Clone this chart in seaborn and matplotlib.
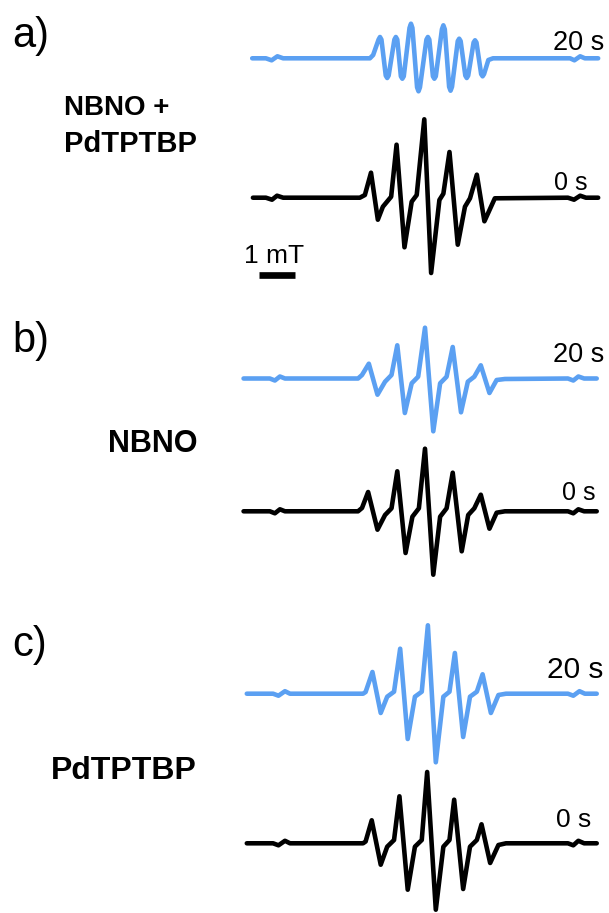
import numpy as np
import seaborn as sns
import matplotlib.pyplot as plt

sns.set_style("white")
plt.rcParams['font.family'] = ['Liberation Sans', 'DejaVu Sans']
plt.rcParams['text.color'] = 'black'

# EPR spectra: field offset (mT) and signal (a.u.)
field_a_20s = [-4.80, -4.42, -4.26, -4.10, -3.94, -1.53, -1.44,
               -1.29, -1.25, -1.21, -1.09, -1.05, -1.01, -0.85, -0.81, -0.77, -0.67, -0.63, -0.59,
               -0.43, -0.39, -0.35, -0.22, -0.18, -0.14, 0.04, 0.08, 0.12, 0.22, 0.26, 0.30,
               0.47, 0.51, 0.55, 0.67, 0.71, 0.75, 0.91, 0.95, 0.99, 1.12, 1.16, 1.20,
               1.35, 1.39, 1.43, 1.56, 1.60, 1.64, 1.76, 1.89, 4.03, 4.15, 4.31, 4.44, 4.81]
signal_a_20s = [0, 0, -2.0, 2.0, 0, 0, 3.3,
                18.7, 21.3, 18.7, -17.3, -19.7, -17.3, 18.7, 21.3, 18.7, -18.0, -20.4, -18.0,
                30.4, 34.6, 30.4, -29.0, -33.0, -29.0, 18.7, 21.3, 18.7, -18.0, -20.4, -18.0,
                29.0, 33.0, 29.0, -28.5, -32.4, -28.5, 17.2, 19.6, 17.2, -17.3, -19.7, -17.3,
                15.8, 18.0, 15.8, -15.8, -18.0, -15.8, -1.7, 0, 0, -2.0, 2.0, 0, 0]

field_a_0s = [-4.78, -4.42, -4.25, -4.11, -3.94, -1.81, -1.67, -1.50, -1.31, -1.17, -0.94, -0.79, -0.57, -0.37,
              -0.23, -0.02, 0.17, 0.40, 0.51, 0.68, 0.91, 1.11, 1.25, 1.44, 1.65, 1.94, 3.97, 4.14, 4.31, 4.47, 4.81]
signal_a_0s = [0, 0, -2.0, 2.0, 0, 0, 2.7, 25.0, -22.0, -9.0, 1.0, 53.0, -49.6, -4.0,
               2.7, 78.4, -75.3, -2.3, 4.0, 45.7, -47.0, -9.0, -0.6, 23.0, -23.6, -0.6, 0, -2.0, 2.0, 0, 0]

field_b_20s = [-5.04, -4.31, -4.17, -4.03, -3.89, -1.86, -1.75, -1.56, -1.32, -1.11, -0.93, -0.77, -0.56, -0.37,
               -0.19, 0.00, 0.23, 0.42, 0.60, 0.77, 1.00, 1.19, 1.37, 1.55, 1.79, 1.99, 2.22, 3.97, 4.12, 4.26, 4.42, 4.77]
signal_b_20s = [0, 0, -2.0, 2.0, 0, 0, 3.5, 14.8, -16.2, -3.2, 3.5, 33.2, -34.5, -4.8,
                1.8, 50.8, -52.8, -4.8, 1.8, 31.5, -33.8, -3.2, 1.8, 13.2, -14.5, -1.5, -0.5, 0, -2.0, 2.0, 0, 0]

field_b_0s = [-5.04, -4.31, -4.17, -4.03, -3.89, -1.86, -1.75, -1.58, -1.32, -1.11, -0.93, -0.77, -0.54, -0.35,
              -0.17, 0.00, 0.23, 0.42, 0.60, 0.77, 1.02, 1.20, 1.37, 1.55, 1.79, 1.99, 2.22, 3.97, 4.12, 4.26, 4.42, 4.77]
signal_b_0s = [0, 0, -2.0, 2.0, 0, 0, 3.3, 19.3, -18.4, -3.7, 3.0, 40.0, -41.7, -5.4,
               3.0, 62.6, -63.4, -5.4, 3.0, 38.6, -40.0, -3.7, 3.0, 16.6, -17.4, -1.4, 0, 0, -2.0, 2.0, 0, 0]

field_c_20s = [-4.95, -4.22, -4.07, -3.89, -3.75, -1.72, -1.65, -1.46, -1.23, -1.05, -0.86, -0.69, -0.48, -0.28,
               -0.09, 0.08, 0.30, 0.51, 0.68, 0.83, 1.06, 1.25, 1.44, 1.60, 1.83, 2.04, 2.25, 3.97, 4.12, 4.29, 4.44, 4.77]
signal_c_20s = [0, 0, -2.0, 2.5, 0, 0, 1.7, 21.7, -19.3, -3.0, 2.0, 45.0, -45.3, -3.0,
                2.0, 68.4, -68.6, -3.0, 2.0, 40.7, -43.3, -3.0, 2.0, 19.4, -19.3, -1.3, 0, 0, -2.0, 2.5, 0, 0]

field_c_0s = [-4.95, -4.22, -4.07, -3.89, -3.75, -1.72, -1.65, -1.48, -1.23, -1.05, -0.86, -0.71, -0.48, -0.28,
              -0.09, 0.06, 0.30, 0.51, 0.68, 0.81, 1.06, 1.25, 1.44, 1.57, 1.81, 2.04, 2.25, 3.97, 4.12, 4.26, 4.42, 4.77]
signal_c_0s = [0, 0, -2.0, 2.5, 0, 0, 1.8, 23.0, -21.4, -3.4, 3.3, 47.0, -46.4, -3.4,
               3.3, 71.3, -66.4, -3.4, 3.3, 43.6, -45.7, -3.4, 3.3, 19.0, -19.7, -1.7, 0, 0, -2.0, 2.5, 0, 0]

panel_letters = ['a)', 'b)', 'c)']
sample_names = ['NBNO +\nPdTPTBP', 'NBNO', 'PdTPTBP']
time_labels = ['20 s', '0 s']
scale_bar_mT = 1.0

blue = '#5ba0f2'
W, H = 609, 913
PX_PER_MT = 36.0
X_CENTER = 425.0

fig = plt.figure(figsize=(W / 100, H / 100), dpi=100)
ax = fig.add_axes([0, 0, 1, 1])
ax.set_xlim(-X_CENTER / PX_PER_MT, (W - X_CENTER) / PX_PER_MT)
ax.set_ylim(0, H)
ax.axis('off')

# (field, signal, colour, baseline height in px from top)
traces = [
    (field_a_20s, signal_a_20s, blue, 58.3),
    (field_a_0s, signal_a_0s, 'black', 197.7),
    (field_b_20s, signal_b_20s, blue, 378.5),
    (field_b_0s, signal_b_0s, 'black', 511.3),
    (field_c_20s, signal_c_20s, blue, 693.7),
    (field_c_0s, signal_c_0s, 'black', 843.3),
]
for fx, sy, col, base in traces:
    y = np.array(sy) + (H - base)
    sns.lineplot(x=fx, y=y, ax=ax, sort=False, estimator=None, color=col, lw=3.3,
                 solid_joinstyle='round', solid_capstyle='round')

# scale bar
x0 = (259 - X_CENTER) / PX_PER_MT
ax.plot([x0, x0 + scale_bar_mT], [H - 275, H - 275], color='black', lw=4.8, solid_capstyle='butt')


def put(x, y, s, size, ha='left', weight='normal'):
    fig.text(x / W, 1 - y / H, s, fontsize=size, ha=ha, va='baseline', fontweight=weight, color='black')


put(12, 47, panel_letters[0], 30)
put(12, 352, panel_letters[1], 30)
put(12, 656, panel_letters[2], 30)

put(64, 115, 'NBNO +', 20, weight='bold')
put(64, 151.5, 'PdTPTBP', 21, weight='bold')
put(108, 452, sample_names[1], 22, weight='bold')
put(51, 779, sample_names[2], 23, weight='bold')

put(604, 49.5, time_labels[0], 19.5, ha='right')
put(588, 190.5, time_labels[1], 18, ha='right')
put(604, 362, time_labels[0], 19.5, ha='right')
put(596, 500, time_labels[1], 18, ha='right')
put(603, 678, time_labels[0], 21.5, ha='right')
put(591, 826.5, time_labels[1], 19, ha='right')

put(244, 263, f'{scale_bar_mT:.0f} mT', 19)

fig.savefig('out.png', dpi=100)
